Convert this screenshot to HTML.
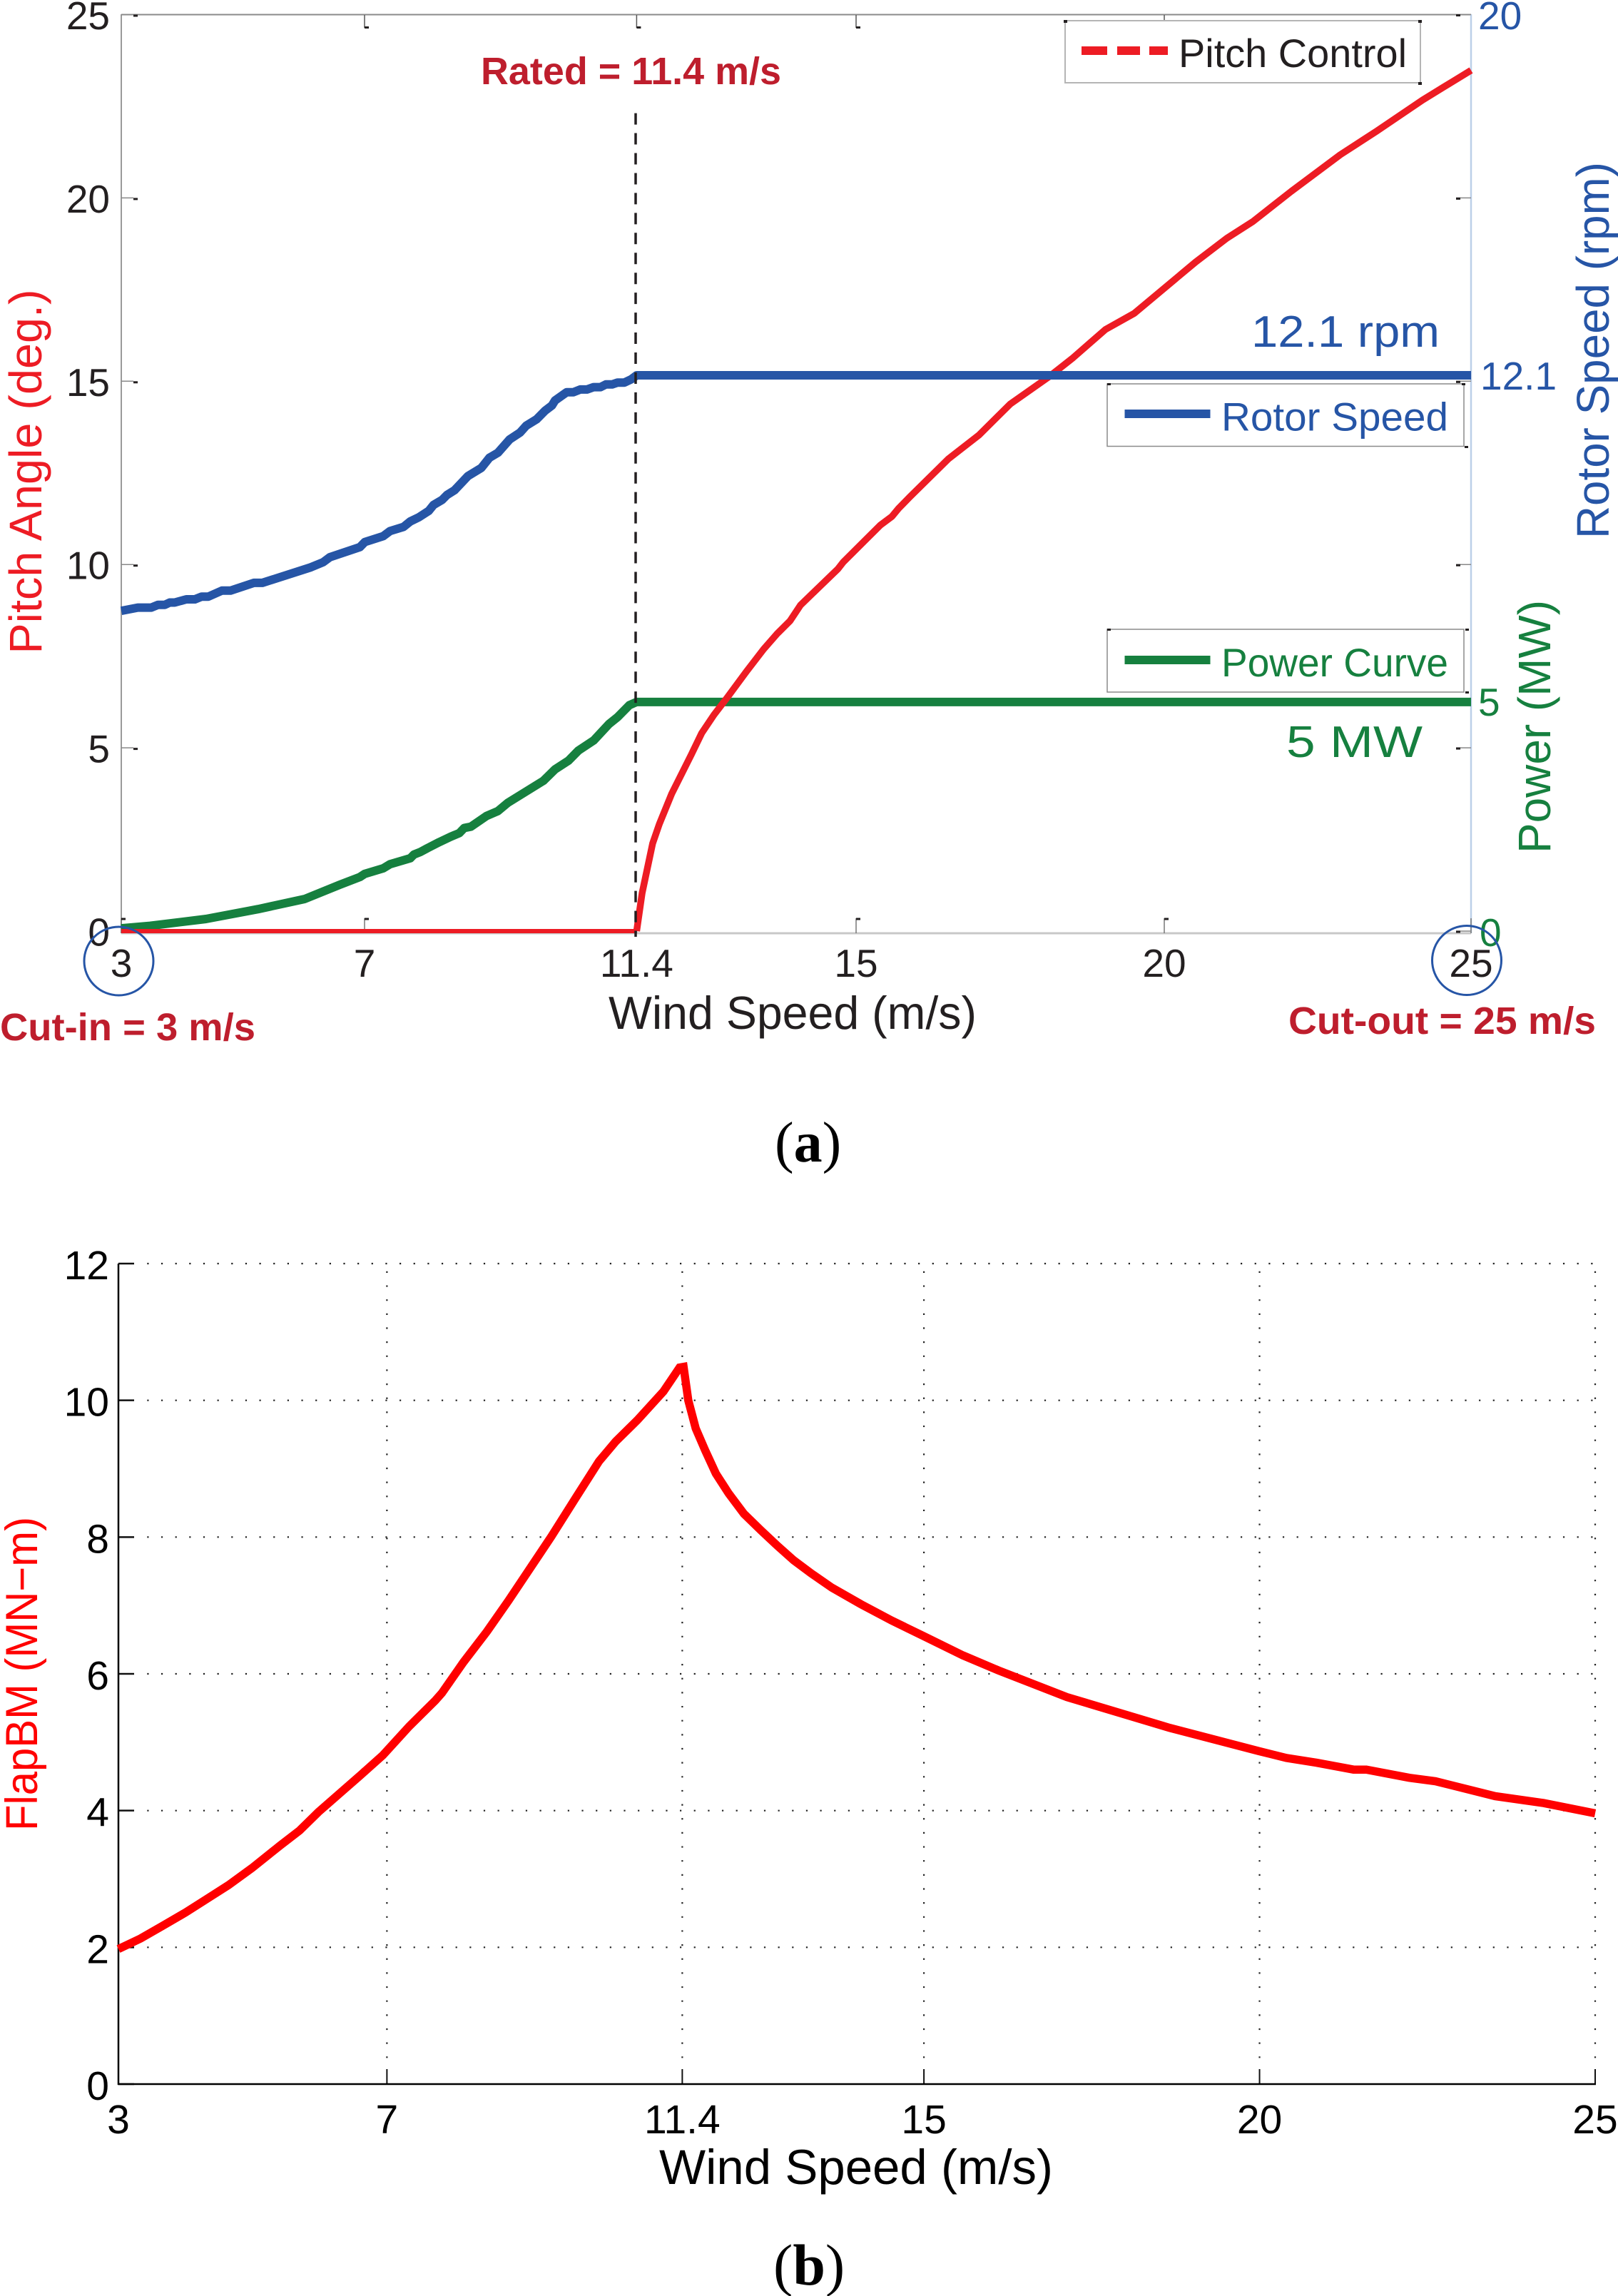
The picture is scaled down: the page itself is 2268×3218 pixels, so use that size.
<!DOCTYPE html>
<html lang="en">
<head>
<meta charset="utf-8">
<title>Wind turbine pitch, rotor speed, power and flapwise bending moment</title>
<style>
html,body{margin:0;padding:0;background:#fff;}
svg{display:block;}
text{font-family:"Liberation Sans",Arial,sans-serif;}
.serif{font-family:"Liberation Serif","Times New Roman",serif;}
.tick-a{font-size:55px;fill:#231f20;}
.tick-b{font-size:57px;fill:#000;}
.anno{font-size:54px;font-weight:bold;fill:#be1e2d;}
.leg{font-size:56px;}
</style>
</head>
<body>
<svg id="figure" xmlns="http://www.w3.org/2000/svg" width="2268" height="3218" viewBox="0 0 2268 3218">
  <rect x="0" y="0" width="2268" height="3218" fill="#fff"/>

  <g id="panel-a">
    <line x1="170" y1="20" x2="170" y2="1308" stroke="#9a9a9a" stroke-width="2"/>
    <line x1="170" y1="20.5" x2="2062" y2="20.5" stroke="#8a8a8a" stroke-width="2"/>
    <line x1="2062" y1="20" x2="2062" y2="1308" stroke="#bccfe8" stroke-width="2.5"/>
    <line x1="170" y1="1308" x2="2062" y2="1308" stroke="#c8c8c8" stroke-width="3"/>
    <g id="a-ticks"></g>
    <g id="a-series"></g>
    <line x1="891" y1="158.6" x2="891" y2="1313" stroke="#231f20" stroke-width="3.5" stroke-dasharray="16 11.95"/>

    <text class="anno" x="674" y="118" textLength="421" lengthAdjust="spacingAndGlyphs">Rated = 11.4 m/s</text>
    <text class="anno" x="0" y="1458" textLength="358" lengthAdjust="spacingAndGlyphs">Cut-in = 3 m/s</text>
    <text class="anno" x="1806" y="1449" textLength="431" lengthAdjust="spacingAndGlyphs">Cut-out = 25 m/s</text>
    <text x="1754" y="486" font-size="62" fill="#2655a6" textLength="264" lengthAdjust="spacingAndGlyphs">12.1 rpm</text>
    <text x="1803" y="1061" font-size="62" fill="#16803f" textLength="191" lengthAdjust="spacingAndGlyphs">5 MW</text>

    <ellipse cx="166.5" cy="1347" rx="48.5" ry="48" fill="none" stroke="#2655a6" stroke-width="3"/>
    <ellipse cx="2056" cy="1346" rx="48.5" ry="48.5" fill="none" stroke="#2655a6" stroke-width="3"/>

    <text x="853" y="1442" font-size="64.5" fill="#231f20" textLength="516" lengthAdjust="spacingAndGlyphs">Wind Speed (m/s)</text>
    <text transform="translate(58 916.5) rotate(-90)" font-size="64.3" fill="#ed1c24" textLength="511" lengthAdjust="spacingAndGlyphs">Pitch Angle (deg.)</text>
    <text transform="translate(2255 755) rotate(-90)" font-size="63.8" fill="#2655a6" textLength="528" lengthAdjust="spacingAndGlyphs">Rotor Speed (rpm)</text>
    <text transform="translate(2173 1196) rotate(-90)" font-size="64" fill="#16803f" textLength="355" lengthAdjust="spacingAndGlyphs">Power (MW)</text>

    <g>
      <rect x="1493" y="29" width="498" height="87" fill="#fff" stroke="#b5b5b5" stroke-width="2"/>
      <line x1="1516" y1="71" x2="1637" y2="71" stroke="#ed1c24" stroke-width="12" stroke-dasharray="36 14 32 13 26"/>
      <text class="leg" x="1652" y="94" fill="#231f20" textLength="320" lengthAdjust="spacingAndGlyphs">Pitch Control</text>
      <path d="M1491 28h5v4h-5zM1988 28h5v4h-5zM1988 115h5v4h-5z" fill="#231f20"/>
    </g>
    <g>
      <rect x="1552" y="538" width="500" height="87.5" fill="#fff" stroke="#8a8a8a" stroke-width="1.5"/>
      <line x1="1576.5" y1="580" x2="1696.5" y2="580" stroke="#2655a6" stroke-width="12"/>
      <text class="leg" x="1712" y="603.5" fill="#2655a6" textLength="318" lengthAdjust="spacingAndGlyphs">Rotor Speed</text>
      <path d="M1552 537h5v3h-5zM2049 537h5v3h-5zM2053 625h5v3h-5z" fill="#231f20"/>
    </g>
    <g>
      <rect x="1552" y="882" width="500" height="88" fill="#fff" stroke="#8a8a8a" stroke-width="1.5"/>
      <line x1="1576.5" y1="925" x2="1696.5" y2="925" stroke="#16803f" stroke-width="12"/>
      <text class="leg" x="1712" y="948" fill="#16803f" textLength="318" lengthAdjust="spacingAndGlyphs">Power Curve</text>
      <path d="M1552 881h5v3h-5zM2054 881h5v3h-5zM2054 969h5v3h-5z" fill="#231f20"/>
    </g>

    <text class="serif" x="1086" y="1628" font-size="80" fill="#000">(<tspan font-weight="bold">a</tspan>)</text>
  </g>

  <g id="panel-b">
    <g id="b-grid"></g>
    <line x1="166" y1="1771" x2="166" y2="2922" stroke="#000" stroke-width="2.5"/>
    <line x1="165" y1="2921" x2="2237" y2="2921" stroke="#000" stroke-width="2.5"/>
    <g id="b-series"></g>
    <text x="924" y="3061" font-size="69" fill="#000" textLength="552" lengthAdjust="spacingAndGlyphs">Wind Speed (m/s)</text>
    <text transform="translate(52 2566) rotate(-90)" font-size="63" fill="#ff0000" textLength="440" lengthAdjust="spacingAndGlyphs">FlapBM (MN−m)</text>
    <text class="serif" x="1084" y="3202" font-size="82" fill="#000">(<tspan font-weight="bold">b</tspan>)</text>
  </g>
</svg>

<script>
// ---- Panel (a) data ----
const aXTicks = [3, 7, 11.4, 15, 20, 25];
const aPitchTicks = [0, 5, 10, 15, 20, 25];

const pitchWind = [3, 11.4, 11.49, 11.66, 11.77, 11.97, 12.29, 12.46, 12.66, 12.88, 13.19, 13.47, 13.69, 13.9, 14.07, 14.68, 14.77, 15.37, 15.56, 15.67, 15.85, 16.48, 16.98, 17.49, 18.12, 18.5, 19.04, 19.51, 20.51, 21.02, 21.44, 22.07, 22.87, 23.46, 24.21, 24.55, 25];
const pitchDeg = [0, 0, 1.04, 2.39, 2.92, 3.74, 4.81, 5.4, 5.9, 6.38, 7.08, 7.69, 8.11, 8.46, 8.89, 9.88, 10.07, 11.07, 11.31, 11.53, 11.84, 12.88, 13.53, 14.38, 15.12, 15.62, 16.41, 16.85, 18.25, 18.9, 19.35, 20.18, 21.18, 21.82, 22.67, 23.02, 23.48];

const rotorWind = [3, 3.27, 3.49, 3.6, 3.71, 3.79, 3.87, 4.06, 4.2, 4.31, 4.42, 4.64, 4.78, 5.16, 5.3, 6.09, 6.29, 6.4, 6.89, 6.97, 7.27, 7.38, 7.6, 7.71, 7.85, 8.01, 8.09, 8.23, 8.31, 8.43, 8.65, 8.87, 9.0, 9.14, 9.33, 9.5, 9.6, 9.77, 9.91, 10.02, 10.07, 10.26, 10.37, 10.48, 10.59, 10.7, 10.81, 10.9, 11.0, 11.09, 11.2, 11.31, 11.4, 25];
const rotorRpm = [6.99, 7.06, 7.06, 7.12, 7.12, 7.17, 7.17, 7.24, 7.24, 7.3, 7.3, 7.43, 7.43, 7.6, 7.6, 7.94, 8.05, 8.16, 8.38, 8.49, 8.62, 8.73, 8.82, 8.94, 9.03, 9.17, 9.3, 9.41, 9.52, 9.62, 9.93, 10.11, 10.33, 10.44, 10.73, 10.88, 11.03, 11.17, 11.36, 11.47, 11.58, 11.76, 11.76, 11.82, 11.82, 11.87, 11.87, 11.93, 11.93, 11.97, 11.97, 12.04, 12.13, 12.13];

const powerWind = [3, 3.47, 4.38, 5.23, 5.99, 6.56, 6.89, 6.97, 7.27, 7.38, 7.71, 7.77, 7.88, 7.99, 8.18, 8.37, 8.51, 8.59, 8.7, 8.95, 9.14, 9.3, 9.88, 10.07, 10.29, 10.45, 10.7, 10.95, 11.09, 11.28, 11.4, 25];
const powerMW = [0.06, 0.115, 0.265, 0.48, 0.7, 1.01, 1.18, 1.25, 1.37, 1.46, 1.59, 1.67, 1.73, 1.81, 1.94, 2.06, 2.14, 2.25, 2.28, 2.51, 2.62, 2.8, 3.28, 3.53, 3.72, 3.94, 4.16, 4.52, 4.67, 4.93, 5, 5];

// ---- Panel (b) data ----
const bXTicks = [3, 7, 11.4, 15, 20, 25];
const bYTicks = [0, 2, 4, 6, 8, 10, 12];
const flapWind = [3, 3.33, 3.65, 4.0, 4.32, 4.64, 4.99, 5.41, 5.7, 5.98, 6.34, 6.62, 6.94, 7.33, 7.72, 7.82, 8.14, 8.49, 8.81, 9.45, 9.81, 10.16, 10.41, 10.73, 11.12, 11.36, 11.42, 11.49, 11.6, 11.74, 11.9, 12.09, 12.32, 12.57, 12.82, 13.06, 13.32, 13.63, 14.06, 14.52, 15.0, 15.58, 16.11, 17.13, 18.66, 19.99, 20.4, 20.85, 21.4, 21.59, 22.23, 22.62, 23.51, 24.23, 25];
const flapMoment = [1.975, 2.13, 2.31, 2.51, 2.71, 2.91, 3.16, 3.49, 3.71, 3.98, 4.29, 4.53, 4.81, 5.23, 5.61, 5.72, 6.17, 6.62, 7.07, 8.01, 8.57, 9.11, 9.4, 9.71, 10.13, 10.48, 10.49, 10.0, 9.59, 9.27, 8.93, 8.64, 8.34, 8.1, 7.87, 7.66, 7.47, 7.26, 7.02, 6.78, 6.55, 6.27, 6.05, 5.66, 5.21, 4.87, 4.77, 4.7, 4.6, 4.6, 4.48, 4.43, 4.21, 4.11, 3.96];

// ---- Axis functions ----
function aX(w) { return 170 + (w - 3) * 1892 / 22; }
function aTickX(w) { return aX(w) + (w === 7 ? -3 : (w === 15 ? -2 : 0)); }
function aYPitch(d) { return 1305 - d * (1305 - 20.5) / 25; }
function aYRight(v) { return 1305 - v * (1305 - 20.5) / 20; }
function bX(w) { return 166 + (w - 3) * 2070 / 22; }
function bY(v) { return 2921 - v * (2921 - 1771) / 12; }

const NS = 'http://www.w3.org/2000/svg';
function make(tag, parent, attrs, text) {
  const n = document.createElementNS(NS, tag);
  for (const k in attrs) n.setAttribute(k, attrs[k]);
  if (text !== undefined) n.textContent = text;
  parent.appendChild(n);
  return n;
}
function linePath(xs, ys, fx, fy) {
  return xs.map(function (x, i) {
    return (i ? 'L' : 'M') + fx(x).toFixed(1) + ' ' + fy(ys[i]).toFixed(1);
  }).join('');
}

const aTicks = document.getElementById('a-ticks');
const aSeries = document.getElementById('a-series');
const bGrid = document.getElementById('b-grid');
const bSeries = document.getElementById('b-series');
const DARK = '#231f20';

// Panel (a) x ticks: hairline from bottom and top, each with a small dark flag
aXTicks.forEach(function (w) {
  const x = aTickX(w);
  const low = make('line', aTicks, { x1: x, y1: 1308, x2: x, y2: 1287, stroke: '#777', 'stroke-width': 1.5 });
  
  
  if (w !== 25) {
    const lowFlag = make('line', aTicks, { x1: x, y1: 1288, x2: x + 6, y2: 1288, stroke: DARK, 'stroke-width': 3 });
    
    
  }
  if (w !== 25 && w !== 3) {
    const high = make('line', aTicks, { x1: x, y1: 21, x2: x, y2: 39, stroke: '#555', 'stroke-width': 1.5 });
    
    
    const highFlag = make('line', aTicks, { x1: x, y1: 38.5, x2: x + 6, y2: 38.5, stroke: DARK, 'stroke-width': 3 });
    
    
  }
  const label = make('text', aTicks, { class: 'tick-a', x: x, y: 1369, 'text-anchor': 'middle' }, String(w));
  
  
});

// Panel (a) left and right ticks share the pitch tick positions
aPitchTicks.forEach(function (d) {
  const y = aYPitch(d);
  const tick = make('line', aTicks, { x1: 170, y1: y, x2: 187, y2: y, stroke: '#888', 'stroke-width': 1.5 });
  
  
  const tip = make('line', aTicks, { x1: 187, y1: y + 1.5, x2: 193, y2: y + 1.5, stroke: DARK, 'stroke-width': 3 });
  
  
  const label = make('text', aTicks, { class: 'tick-a', x: 154, y: y + 20.5, 'text-anchor': 'end' }, String(d));
  
  
  const rightTick = make('line', aTicks, { x1: 2041, y1: y, x2: 2062, y2: y, stroke: '#888', 'stroke-width': 1.5 });
  
  
  const rightTip = make('line', aTicks, { x1: 2041, y1: y + 1, x2: 2047, y2: y + 1, stroke: DARK, 'stroke-width': 3 });
  
  
});

// Panel (a) right-hand printed values
const rpmTop = make('text', aTicks, { x: 2072, y: 41, 'font-size': 55, fill: '#2655a6' }, '20');


const rpmRated = make('text', aTicks, { x: 2075, y: 546, 'font-size': 55, fill: '#2655a6' }, '12.1');


const mwRated = make('text', aTicks, { x: 2072, y: aYRight(5) + 19, 'font-size': 55, fill: '#16803f' }, '5');


const mwZero = make('text', aTicks, { x: 2074, y: 1326, 'font-size': 55, fill: '#16803f' }, '0');



// Panel (a) series, drawn in reference stacking order
const powerLine = make('path', aSeries, { d: linePath(powerWind, powerMW, aX, aYRight), fill: 'none', stroke: '#16803f', 'stroke-width': 12, 'stroke-linejoin': 'round' });



const firstRise = pitchDeg.findIndex(function (d) { return d > 0; });
const pitchFlat = make('path', aSeries, { d: linePath(pitchWind.slice(0, firstRise), pitchDeg.slice(0, firstRise), aX, aYPitch), fill: 'none', stroke: '#ed1c24', 'stroke-width': 6 });


const pitchRise = make('path', aSeries, { d: linePath(pitchWind.slice(firstRise - 1), pitchDeg.slice(firstRise - 1), aX, aYPitch), fill: 'none', stroke: '#ed1c24', 'stroke-width': 9.5, 'stroke-linejoin': 'round' });



const rotorLine = make('path', aSeries, { d: linePath(rotorWind, rotorRpm, aX, aYRight), fill: 'none', stroke: '#2655a6', 'stroke-width': 12, 'stroke-linejoin': 'round' });



// Panel (b) grid, ticks and labels
bYTicks.forEach(function (v) {
  const y = bY(v);
  if (v > 0) {
    const grid = make('line', bGrid, { x1: 206.3, y1: y, x2: 2236, y2: y, stroke: '#222', 'stroke-width': 2.2, 'stroke-dasharray': '2.2 17.45' });
    
    
  }
  const tick = make('line', bGrid, { x1: 166, y1: y, x2: 188, y2: y, stroke: '#111', 'stroke-width': 2.5 });
  
  
  const label = make('text', bGrid, { class: 'tick-b', x: 153, y: y + 22, 'text-anchor': 'end' }, String(v));
  
  
});
bXTicks.forEach(function (w) {
  const x = bX(w);
  if (w > 3) {
    const grid = make('line', bGrid, { x1: x, y1: 1781.8, x2: x, y2: 2898, stroke: '#222', 'stroke-width': 2.2, 'stroke-dasharray': '2.2 17.45' });
    
    
    const tick = make('line', bGrid, { x1: x, y1: 2921, x2: x, y2: 2900, stroke: '#111', 'stroke-width': 2 });
    
    
  }
  const label = make('text', bGrid, { class: 'tick-b', x: x, y: 2990, 'text-anchor': 'middle' }, String(w));
  
  
});

const flapLine = make('path', bSeries, { d: linePath(flapWind, flapMoment, bX, bY), fill: 'none', stroke: '#ff0000', 'stroke-width': 11.5, 'stroke-linejoin': 'miter', 'stroke-miterlimit': 2 });


</script>
</body>
</html>
